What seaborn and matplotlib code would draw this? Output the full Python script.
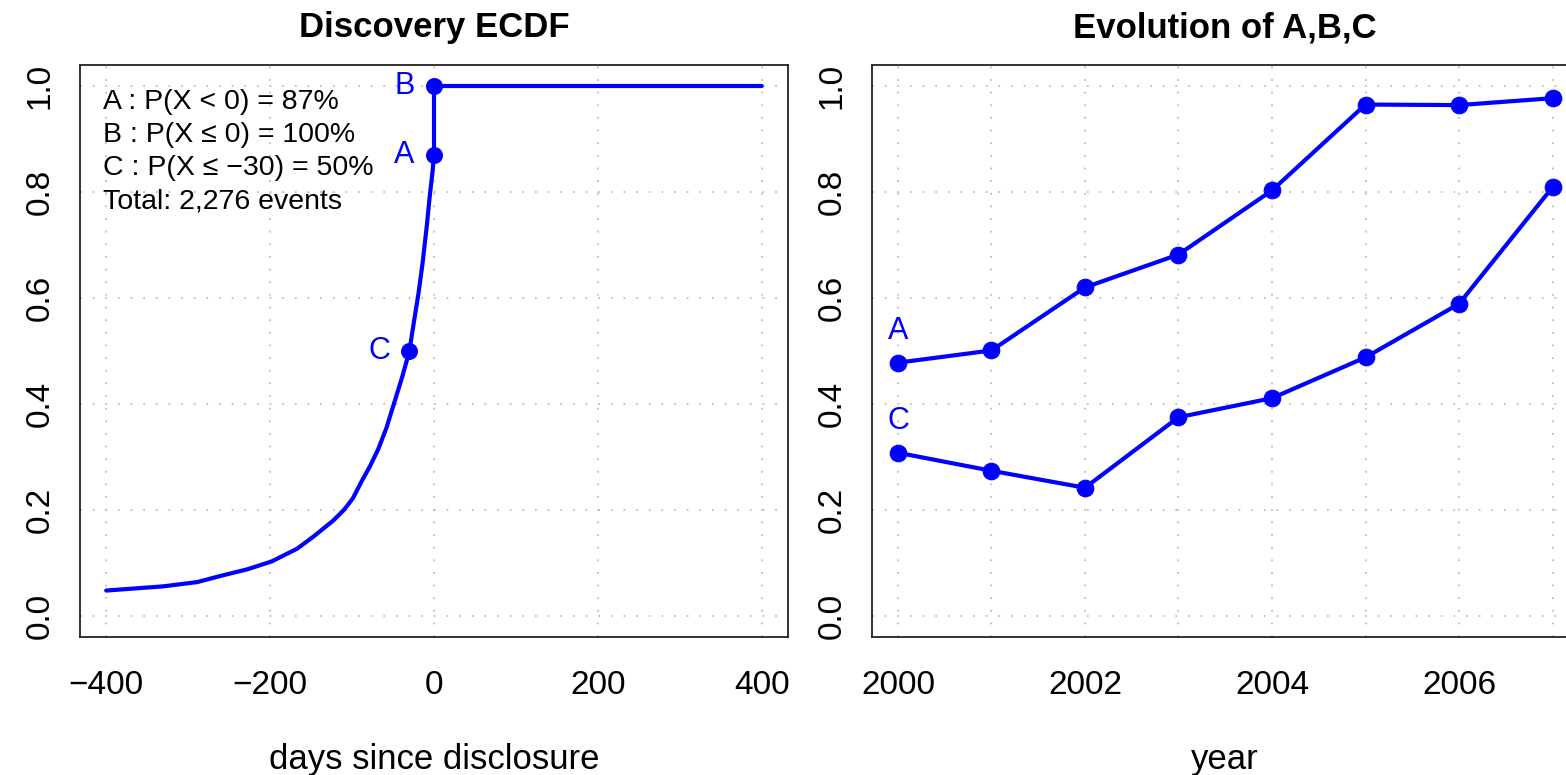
import numpy as np
import pandas as pd
import matplotlib
matplotlib.use("Agg")
import matplotlib.pyplot as plt
import seaborn as sns

# ECDF of discovery time relative to disclosure (days)
ecdf_days = [-400, -330, -289, -257, -228, -198, -167, -147, -123, -110, -99, -88,
             -78, -68, -58, -48, -39, -30, -25, -19, -14, -9, -5, -2, 0, 0, 400]
ecdf_prob = [0.048, 0.056, 0.064, 0.077, 0.088, 0.103, 0.127, 0.150, 0.180, 0.200,
             0.222, 0.255, 0.283, 0.315, 0.355, 0.405, 0.450, 0.500, 0.550, 0.608,
             0.665, 0.733, 0.795, 0.835, 0.870, 1.000, 1.000]

# Marked points on the ECDF
mark_labels = ["A", "B", "C"]
mark_days = [0, 0, -30]
mark_prob = [0.87, 1.00, 0.50]

summary_lines = [
    "A : P(X < 0) = 87%",
    "B : P(X \u2264 0) = 100%",
    "C : P(X \u2264 \u221230) = 50%",
    "Total: 2,276 events",
]

# Yearly evolution of A and C
years = [2000, 2001, 2002, 2003, 2004, 2005, 2006, 2007]
series_a = [0.478, 0.501, 0.620, 0.682, 0.803, 0.965, 0.964, 0.977]
series_c = [0.308, 0.274, 0.242, 0.375, 0.411, 0.488, 0.589, 0.809]

sns.set_style("white")
plt.rcParams["font.family"] = ["Liberation Sans", "DejaVu Sans"]
plt.rcParams["text.color"] = "black"
plt.rcParams["axes.labelcolor"] = "black"
plt.rcParams["xtick.color"] = "black"
plt.rcParams["ytick.color"] = "black"

BLUE = "#0000FF"
AXC = "#222222"
W, H = 1566, 775

fig = plt.figure(figsize=(W / 100, H / 100), dpi=100)
ax1 = fig.add_axes([80 / W, 137.8 / H, 708 / W, 572.4 / H])
ax2 = fig.add_axes([871.8 / W, 137.8 / H, 706.9 / W, 572.4 / H])


def style_axes(ax):
    for sp in ax.spines.values():
        sp.set_color(AXC)
        sp.set_linewidth(1.3)
        sp.set_visible(True)
    ax.tick_params(direction="out", length=11.5, width=1.1, color=AXC,
                   labelsize=24, labelcolor="black", pad=6)
    ax.tick_params(axis="x", pad=12)
    ax.grid(True, linestyle=(0, (1, 6)), color="#bdbdbd", linewidth=1.3)
    ax.set_axisbelow(True)
    ax.set_ylim(-0.04, 1.04)
    ax.set_yticks([0.0, 0.2, 0.4, 0.6, 0.8, 1.0])
    ax.set_yticklabels(["0.0", "0.2", "0.4", "0.6", "0.8", "1.0"],
                       rotation=90, va="center")


# Left panel: ECDF
df_ecdf = pd.DataFrame({"days": ecdf_days, "prob": ecdf_prob})
sns.lineplot(data=df_ecdf, x="days", y="prob", ax=ax1, color=BLUE,
             linewidth=3.0, sort=False, estimator=None)
df_mark = pd.DataFrame({"days": mark_days, "prob": mark_prob, "lab": mark_labels})
sns.scatterplot(data=df_mark, x="days", y="prob", ax=ax1, color=BLUE,
                s=150, edgecolor=BLUE, linewidth=0, zorder=5)
for lab, d, p in zip(mark_labels, mark_days, mark_prob):
    ax1.annotate(lab, (d, p), xytext=(-14, 0), textcoords="offset points",
                 ha="right", va="center", color=BLUE, fontsize=22)

style_axes(ax1)
ax1.set_xlim(-432, 432)
ax1.set_xticks([-400, -200, 0, 200, 400])
ax1.set_xticklabels(["\u2212400", "\u2212200", "0", "200", "400"])
ax1.set_title("Discovery ECDF", fontsize=25, fontweight="bold", pad=20, color="black")
ax1.set_xlabel("days since disclosure", fontsize=25, labelpad=30)
ax1.set_ylabel("")

for i, line in enumerate(summary_lines):
    ax1.text(0.032, 0.935 - i * 0.058, line, transform=ax1.transAxes,
             fontsize=20.5, color="black", ha="left", va="center")

# Right panel: evolution over years
df_years = pd.DataFrame({
    "year": years * 2,
    "value": series_a + series_c,
    "series": ["A"] * len(years) + ["C"] * len(years),
})
sns.lineplot(data=df_years, x="year", y="value", units="series", estimator=None,
             ax=ax2, color=BLUE, linewidth=3.0, marker="o", markersize=12,
             markeredgecolor=BLUE, legend=False)
ax2.annotate("A", (years[0], series_a[0]), xytext=(0, 12), textcoords="offset points",
             ha="center", va="bottom", color=BLUE, fontsize=22)
ax2.annotate("C", (years[0], series_c[0]), xytext=(0, 12), textcoords="offset points",
             ha="center", va="bottom", color=BLUE, fontsize=22)

style_axes(ax2)
ax2.set_xlim(1999.72, 2007.28)
ax2.set_xticks(years)
ax2.set_xticklabels([str(y) if y % 2 == 0 else "" for y in years])
ax2.set_title("Evolution of A,B,C", fontsize=25, fontweight="bold", pad=20, color="black")
ax2.set_xlabel("year", fontsize=25, labelpad=30)
ax2.set_ylabel("")

fig.savefig("out.png", dpi=100)
